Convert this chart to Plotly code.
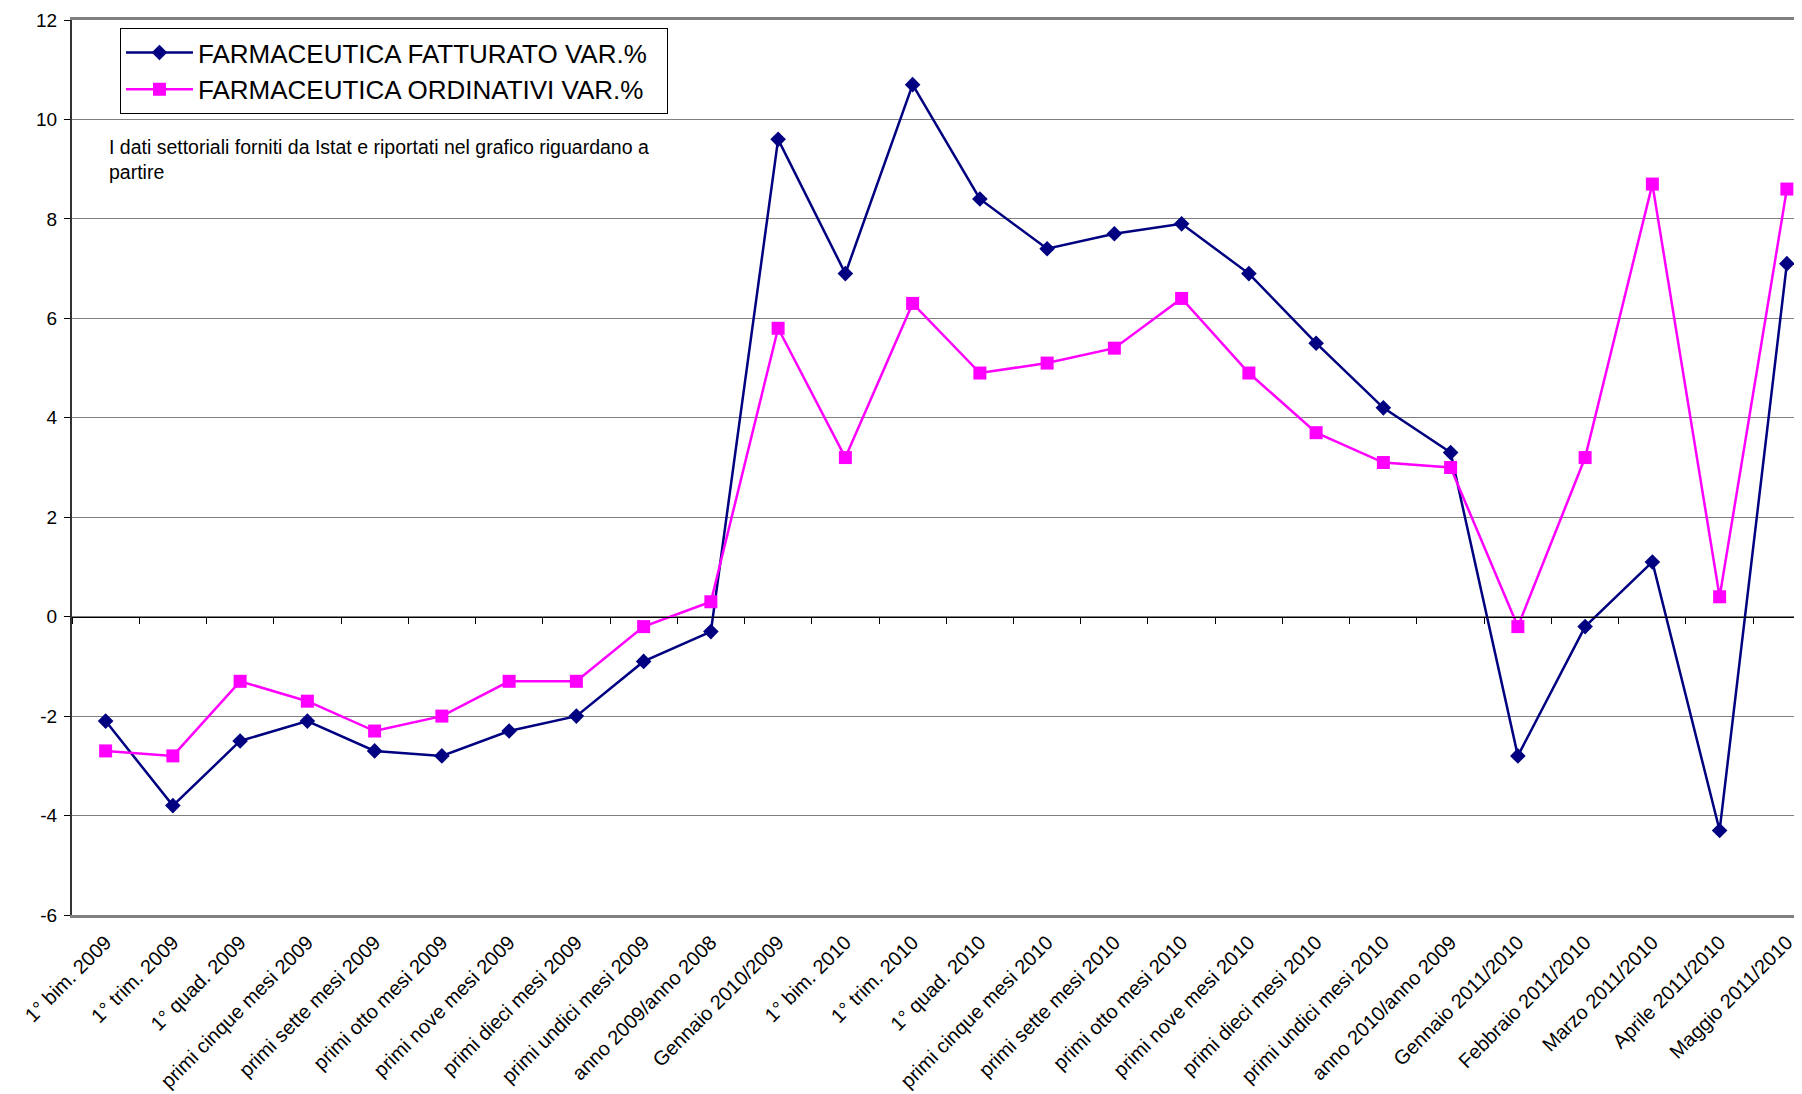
"""Farmaceutica: fatturato vs ordinativi, variazioni percentuali."""

import plotly.graph_objects as go

CATEGORIES = [
    "1° bim. 2009",
    "1° trim. 2009",
    "1° quad. 2009",
    "primi cinque mesi 2009",
    "primi sette mesi 2009",
    "primi otto mesi 2009",
    "primi nove mesi 2009",
    "primi dieci mesi 2009",
    "primi undici mesi 2009",
    "anno 2009/anno 2008",
    "Gennaio 2010/2009",
    "1° bim. 2010",
    "1° trim. 2010",
    "1° quad. 2010",
    "primi cinque mesi 2010",
    "primi sette mesi 2010",
    "primi otto mesi 2010",
    "primi nove mesi 2010",
    "primi dieci mesi 2010",
    "primi undici mesi 2010",
    "anno 2010/anno 2009",
    "Gennaio 2011/2010",
    "Febbraio 2011/2010",
    "Marzo 2011/2010",
    "Aprile 2011/2010",
    "Maggio 2011/2010",
]

FATTURATO = [
    -2.1, -3.8, -2.5, -2.1, -2.7, -2.8, -2.3, -2.0, -0.9, -0.3,
    9.6, 6.9, 10.7, 8.4, 7.4, 7.7, 7.9, 6.9, 5.5, 4.2,
    3.3, -2.8, -0.2, 1.1, -4.3, 7.1,
]
ORDINATIVI = [
    -2.7, -2.8, -1.3, -1.7, -2.3, -2.0, -1.3, -1.3, -0.2, 0.3,
    5.8, 3.2, 6.3, 4.9, 5.1, 5.4, 6.4, 4.9, 3.7, 3.1,
    3.0, -0.2, 3.2, 8.7, 0.4, 8.6,
]
Y_TICKS = [-6, -4, -2, 0, 2, 4, 6, 8, 10, 12]
Y_TICK_TEXT = [str(v) for v in Y_TICKS]  # plain hyphen, like Excel

NOTE = (
    "I dati settoriali forniti da Istat e riportati nel grafico riguardano a"
    "<br>partire"
)

FONT = "Liberation Sans, Arial, sans-serif"
NAVY = "#000080"
MAGENTA = "#FF00FF"
GRID = "#808080"
PAD = "\u00a0\u00a0"  # a bit of room on the right of the legend box

idx = list(range(len(CATEGORIES)))

fig = go.Figure()
fig.add_trace(
    go.Scatter(
        x=idx,
        y=FATTURATO,
        name="FARMACEUTICA FATTURATO VAR.%" + PAD,
        mode="lines+markers",
        line=dict(color=NAVY, width=2.5),
        marker=dict(symbol="diamond", size=12, color=NAVY),
        cliponaxis=False,
    )
)
fig.add_trace(
    go.Scatter(
        x=idx,
        y=ORDINATIVI,
        name="FARMACEUTICA ORDINATIVI VAR.%" + PAD,
        mode="lines+markers",
        line=dict(color=MAGENTA, width=2.5),
        marker=dict(symbol="square", size=13, color=MAGENTA),
        cliponaxis=False,
    )
)

# the page body has an 8px margin, so the margins are shifted to compensate
x_range = [-0.5, 25.344]
fig.update_layout(
    width=1802,
    height=1094,
    margin=dict(l=64, r=0, t=12, b=187),
    paper_bgcolor="white",
    plot_bgcolor="white",
    font=dict(family=FONT, color="black", size=18),
    hovermode=False,
    showlegend=True,
    legend=dict(
        x=0.0276,
        y=0.991,
        xanchor="left",
        yanchor="top",
        bgcolor="white",
        bordercolor="black",
        borderwidth=1,
        font=dict(size=26, family=FONT),
        itemwidth=67,
        tracegroupgap=0,
    ),
    xaxis=dict(
        range=x_range,
        tickmode="array",
        tickvals=idx,
        ticktext=CATEGORIES,
        tickangle=-45,
        ticks="",
        ticklabelstandoff=5,
        tickfont=dict(size=20),
        showgrid=False,
        zeroline=False,
        showline=True,
        linecolor=GRID,
        linewidth=2.5,
        mirror=True,
    ),
    # x axis crossing at y=0 with tick marks between categories
    xaxis2=dict(
        overlaying="x",
        anchor="free",
        position=6 / 18,
        range=x_range,
        tickmode="array",
        tickvals=[i - 0.5 for i in range(len(CATEGORIES) + 1)],
        ticks="outside",
        ticklen=6,
        tickcolor="black",
        showticklabels=False,
        showgrid=False,
        zeroline=False,
        showline=True,
        linecolor="black",
        linewidth=1,
    ),
    yaxis=dict(
        range=[-6, 12],
        tickmode="array",
        tickvals=Y_TICKS,
        ticktext=Y_TICK_TEXT,
        ticks="outside",
        ticklen=6,
        tickcolor="black",
        ticklabelstandoff=3,
        tickfont=dict(size=19),
        showgrid=True,
        gridcolor=GRID,
        gridwidth=1,
        zeroline=False,
        showline=True,
        linecolor="#333333",
        linewidth=2,
    ),
    annotations=[
        dict(
            text=NOTE,
            xref="paper",
            yref="paper",
            x=0.0201,
            y=0.873,
            xanchor="left",
            yanchor="top",
            align="left",
            showarrow=False,
            font=dict(size=19.5, family=FONT),
        )
    ],
)
# dummy trace so the crossing axis is drawn
fig.add_trace(
    go.Scatter(x=[], y=[], xaxis="x2", showlegend=False, hoverinfo="skip")
)

fig.write_html("out.html")
